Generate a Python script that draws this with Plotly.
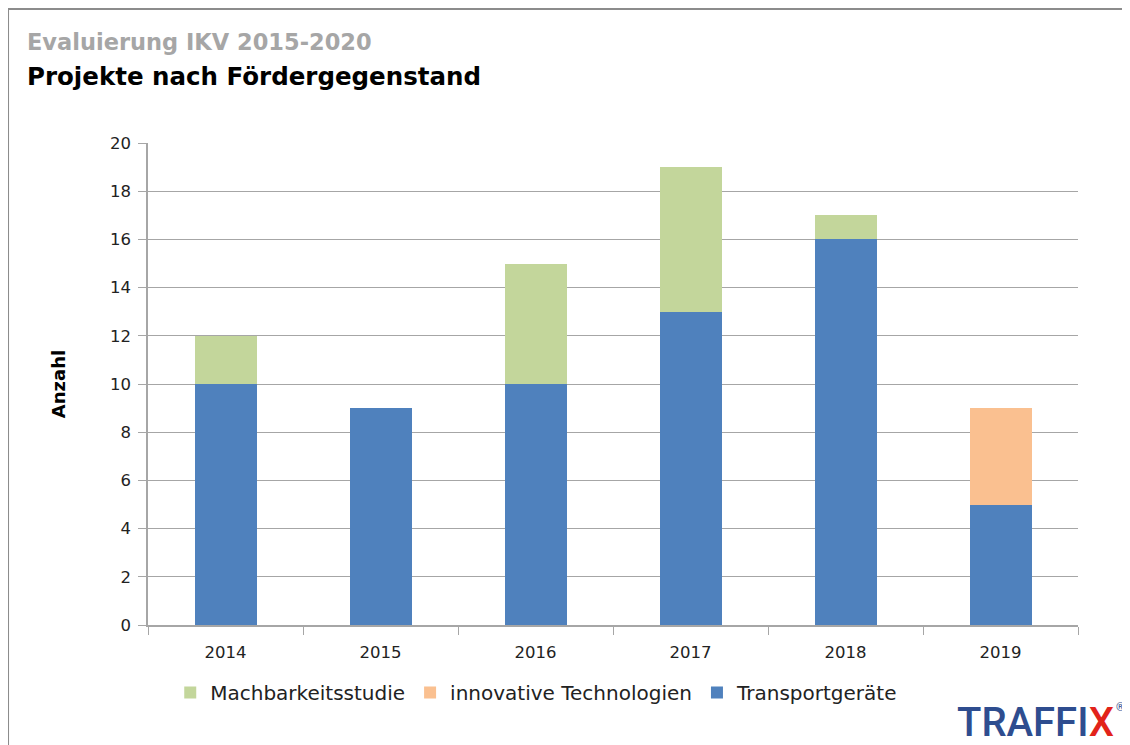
import plotly.graph_objects as go

years = ["2014", "2015", "2016", "2017", "2018", "2019"]
transport = [10, 9, 10, 13, 16, 5]
machbarkeit = [2, 0, 5, 6, 1, 0]
innovativ = [0, 0, 0, 0, 0, 4]

FONT = "'DejaVu Sans', sans-serif"

fig = go.Figure()
fig.add_trace(go.Bar(x=years, y=transport, name="Transportgeräte",
                     marker=dict(color="#4F81BD", line=dict(width=0)), legendrank=3))
fig.add_trace(go.Bar(x=years, y=machbarkeit, name="Machbarkeitsstudie",
                     marker=dict(color="#C3D69B", line=dict(width=0)), legendrank=1))
fig.add_trace(go.Bar(x=years, y=innovativ, name="innovative Technologien",
                     marker=dict(color="#FAC090", line=dict(width=0)), legendrank=2))

fig.update_layout(
    width=1122, height=737,
    barmode="stack", bargap=0.6,
    plot_bgcolor="white", paper_bgcolor="white",
    margin=dict(l=140, r=52, t=135, b=120),
    font=dict(family=FONT, size=16, color="#222"),
    showlegend=True,
    legend=dict(orientation="h", x=0.418, xanchor="center", y=-0.14, yanchor="middle",
                font=dict(size=20, color="#222"), itemwidth=30, tracegroupgap=0,
                traceorder="normal"),
    xaxis=dict(type="category", showline=True, linecolor="#A6A6A6", linewidth=1.5,
               ticks="outside", tickson="boundaries", ticklen=8, tickcolor="#A6A6A6",
               tickfont=dict(size=16.5, color="#222"), showgrid=False,
               ticklabelstandoff=11),
    yaxis=dict(range=[0, 20], dtick=2, showgrid=True, gridcolor="#A6A6A6", gridwidth=1,
               showline=True, linecolor="#A6A6A6", linewidth=1.5, ticks="outside",
               ticklen=8, tickcolor="#A6A6A6", tickfont=dict(size=16.5, color="#222"),
               zeroline=False, ticklabelstandoff=4,
               title=dict(text="<b>Anzahl</b>", font=dict(size=18, color="#000"), standoff=40)),
    shapes=[dict(type="rect", xref="paper", yref="paper",
                 x0=-0.1505, x1=1.2, y0=-0.4, y1=1.278,
                 line=dict(color="#8C8C8C", width=2), fillcolor="rgba(0,0,0,0)", layer="below")],
    annotations=[
        dict(text="<b>Evaluierung IKV 2015-2020</b>", xref="paper", yref="paper",
             x=-0.132, y=1.2095, xanchor="left", yanchor="middle", showarrow=False,
             font=dict(size=22.5, color="#A6A6A6", family=FONT)),
        dict(text="<b>Projekte nach Fördergegenstand</b>", xref="paper", yref="paper",
             x=-0.132, y=1.137, xanchor="left", yanchor="middle", showarrow=False,
             font=dict(size=24.5, color="#000", family=FONT)),
        dict(text="TRAFFI<span style='color:#E2231A'>X</span>",
             xref="paper", yref="paper", x=1.041, y=-0.203, xanchor="right", yanchor="middle",
             showarrow=False, font=dict(size=40, color="#2E4D8F", family="Roboto", weight=500)),
        dict(text="®", xref="paper", yref="paper", x=1.046, y=-0.171, xanchor="center",
             yanchor="middle", showarrow=False, font=dict(size=11, color="#2E4D8F", family="Roboto")),
    ],
)

fig.write_html("out.html")
